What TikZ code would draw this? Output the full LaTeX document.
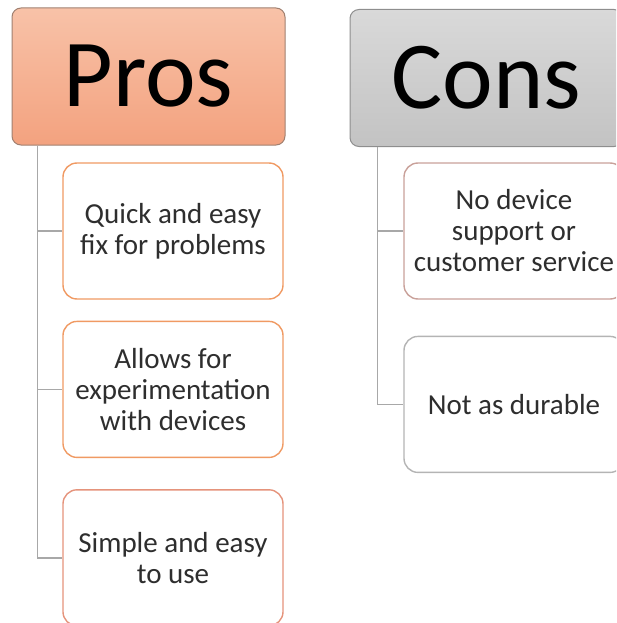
\documentclass[tikz,border=0pt]{standalone}
\usepackage{fontspec}
\setmainfont{Carlito}
\usetikzlibrary{positioning,calc}
\definecolor{prostop}{HTML}{F8C2A8}
\definecolor{prosbot}{HTML}{F3A27F}
\definecolor{prosedge}{HTML}{A08070}
\definecolor{constop}{HTML}{D9D9D9}
\definecolor{consbot}{HTML}{C3C3C3}
\definecolor{consedge}{HTML}{8E8E8E}
\definecolor{orangeedge}{HTML}{F09A63}
\definecolor{salmonedge}{HTML}{E5937B}
\definecolor{rosyedge}{HTML}{C9A19A}
\definecolor{greyedge}{HTML}{B4B4B4}
\definecolor{linkgrey}{HTML}{A8A8A8}
\definecolor{itemtext}{HTML}{2E2E2E}
\tikzset{
  headbox/.style = {rectangle,rounded corners=9pt,draw,line width=1pt,minimum width=273pt,minimum height=137pt,font=\fontsize{96}{96}\selectfont,inner sep=0pt},
  itembox/.style = {rectangle,rounded corners=14pt,draw,line width=1.4pt,fill=white,align=center,text=itemtext,minimum width=220pt,minimum height=136pt,font=\fontsize{29}{31}\selectfont,inner sep=1pt},
  link/.style    = {draw=linkgrey,line width=1.4pt},
}
\begin{document}
\begin{tikzpicture}[x=1pt,y=-1pt]
\useasboundingbox (0,0) rectangle (616,623);
\clip (0,0) rectangle (616,623);
% headers
\node[headbox,draw=prosedge,top color=prostop,bottom color=prosbot] (pros) at (148.5,76.5) {Pros};
\node[headbox,draw=consedge,top color=constop,bottom color=consbot] (cons) at (486.5,78) {Cons};
% pros list
\node[itembox,draw=orangeedge] (quick) at (173,231) {Quick and easy\\fix for problems};
\node[itembox,draw=orangeedge] (exper) [below=21pt of quick] {Allows for\\experimentation\\with devices};
\node[itembox,draw=salmonedge] (simple) [below=31pt of exper] {Simple and easy\\to use};
% cons list
\node[itembox,draw=rosyedge] (support) at (514,231) {No device\\support or\\customer service};
\node[itembox,draw=greyedge] (durable) [below=36pt of support] {Not as durable};
% links
\draw[link] ([xshift=26pt]pros.south west) |- (quick.west);
\draw[link] ([xshift=26pt]pros.south west) |- (exper.west);
\draw[link] ([xshift=26pt]pros.south west) |- (simple.west);
\draw[link] ([xshift=28pt]cons.south west) |- (support.west);
\draw[link] ([xshift=28pt]cons.south west) |- (durable.west);
\end{tikzpicture}
\end{document}
